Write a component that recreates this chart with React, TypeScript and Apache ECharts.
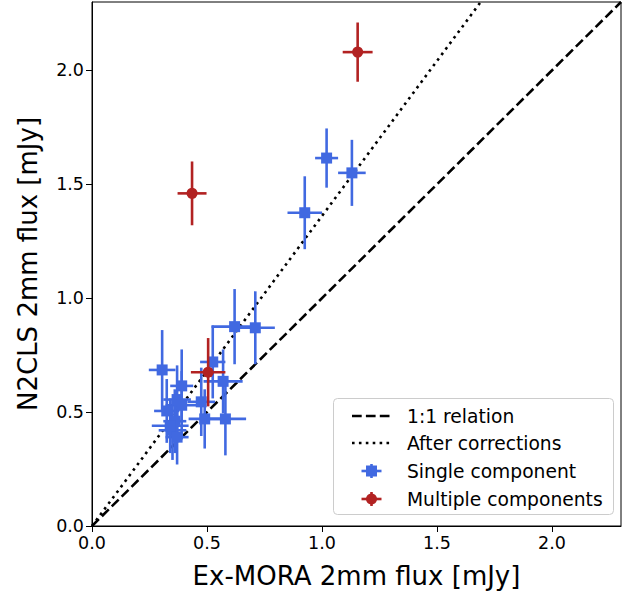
import React, { useEffect, useRef } from 'react';
import * as echarts from 'echarts';

// Single-component sources: x, y, x error, y error
const singleX = [1.13, 1.02, 0.925, 0.62, 0.71, 0.525, 0.57, 0.475, 0.49, 0.58, 0.305, 0.39, 0.37, 0.325, 0.39, 0.35, 0.37, 0.36, 0.34];
const singleY = [1.55, 1.615, 1.375, 0.875, 0.87, 0.72, 0.635, 0.545, 0.47, 0.47, 0.685, 0.615, 0.555, 0.505, 0.53, 0.42, 0.39, 0.46, 0.44];
const singleXErr = [0.06, 0.05, 0.075, 0.1, 0.085, 0.055, 0.085, 0.06, 0.07, 0.09, 0.058, 0.05, 0.06, 0.055, 0.07, 0.06, 0.05, 0.05, 0.08];
const singleYErr = [0.145, 0.13, 0.16, 0.165, 0.16, 0.16, 0.14, 0.15, 0.13, 0.16, 0.175, 0.16, 0.15, 0.14, 0.15, 0.13, 0.12, 0.14, 0.12];

// Multiple-component sources
const multiX = [1.155, 0.435, 0.505];
const multiY = [2.08, 1.46, 0.675];
const multiXErr = [0.065, 0.063, 0.075];
const multiYErr = [0.13, 0.14, 0.15];

// Reference lines
const oneToOneX = [0, 2.3];
const oneToOneY = [0, 2.3];
const corrX = [0, 1.69];
const corrY = [0, 2.3];

const xTicks = [0, 0.5, 1.0, 1.5, 2.0];
const yTicks = [0, 0.5, 1.0, 1.5, 2.0];

const BLUE = '#4169E1';
const RED = '#B22222';
const FONT = 'DejaVu Sans';
const LEGEND_FS = 18.7;

function errRender(color: string) {
  return (params: any, api: any) => {
    const x = api.value(0), y = api.value(1), xe = api.value(2), ye = api.value(3);
    const l = api.coord([x - xe, y]);
    const r = api.coord([x + xe, y]);
    const t = api.coord([x, y + ye]);
    const b = api.coord([x, y - ye]);
    const style = { stroke: color, lineWidth: 2.6, fill: null };
    return {
      type: 'group',
      children: [
        { type: 'line', shape: { x1: l[0], y1: l[1], x2: r[0], y2: r[1] }, style },
        { type: 'line', shape: { x1: t[0], y1: t[1], x2: b[0], y2: b[1] }, style },
      ],
    };
  };
}

function legendErrIcon(cx: number, cy: number, color: string, square: boolean) {
  const s = { stroke: color, lineWidth: 2.6 };
  return [
    { type: 'line', shape: { x1: cx - 10, y1: cy, x2: cx + 10, y2: cy }, style: s },
    { type: 'line', shape: { x1: cx, y1: cy - 7, x2: cx, y2: cy + 7 }, style: s },
    square
      ? { type: 'rect', shape: { x: cx - 5.5, y: cy - 5.5, width: 11, height: 11 }, style: { fill: color } }
      : { type: 'circle', shape: { cx, cy, r: 5.5 }, style: { fill: color } },
  ];
}

export default function App() {
  const ref = useRef<HTMLDivElement>(null);
  useEffect(() => {
    if (!ref.current) return;
    const chart = echarts.init(ref.current, null, { renderer: 'svg' });
    const axisCommon = {
      type: 'value',
      min: 0,
      max: 2.3,
      nameLocation: 'middle',
      nameTextStyle: { fontSize: 26, color: '#000', fontFamily: FONT },
      axisLine: { show: true, lineStyle: { color: '#000', width: 1 } },
      splitLine: { show: false },
    };
    const lineLabel = { fontSize: 17.5, color: '#000', fontFamily: FONT, margin: 8, formatter: (v: number) => v.toFixed(1) };
    chart.setOption({
      animation: false,
      grid: { left: 92, top: 2, width: 529, height: 524, show: true, borderColor: '#000', borderWidth: 1, containLabel: false },
      xAxis: {
        ...axisCommon,
        name: 'Ex-MORA 2mm flux [mJy]',
        nameGap: 37,
        axisTick: { show: true, length: 6, inside: false, customValues: xTicks, lineStyle: { color: '#000', width: 1 } },
        axisLabel: { ...lineLabel, customValues: xTicks },
      },
      yAxis: {
        ...axisCommon,
        name: 'N2CLS 2mm flux [mJy]',
        nameGap: 51,
        axisTick: { show: true, length: 6, inside: false, customValues: yTicks, lineStyle: { color: '#000', width: 1 } },
        axisLabel: { ...lineLabel, customValues: yTicks },
      },
      series: [
        {
          name: '1:1 relation',
          type: 'line',
          data: oneToOneX.map((x, i) => [x, oneToOneY[i]]),
          symbol: 'none',
          lineStyle: { color: '#000', width: 2.6, type: [9.7, 4.2] },
          z: 1,
        },
        {
          name: 'After corrections',
          type: 'line',
          data: corrX.map((x, i) => [x, corrY[i]]),
          symbol: 'none',
          lineStyle: { color: '#000', width: 2.6, type: [2.6, 4.3] },
          z: 1,
        },
        {
          name: 'Single component errors',
          type: 'custom',
          renderItem: errRender(BLUE),
          encode: { x: 0, y: 1 },
          data: singleX.map((x, i) => [x, singleY[i], singleXErr[i], singleYErr[i]]),
          z: 2,
        },
        {
          name: 'Single component',
          type: 'scatter',
          symbol: 'rect',
          symbolSize: 11,
          itemStyle: { color: BLUE, opacity: 1 },
          data: singleX.map((x, i) => [x, singleY[i]]),
          z: 3,
        },
        {
          name: 'Multiple components errors',
          type: 'custom',
          renderItem: errRender(RED),
          encode: { x: 0, y: 1 },
          data: multiX.map((x, i) => [x, multiY[i], multiXErr[i], multiYErr[i]]),
          z: 4,
        },
        {
          name: 'Multiple components',
          type: 'scatter',
          symbol: 'circle',
          symbolSize: 11,
          itemStyle: { color: RED, opacity: 1 },
          data: multiX.map((x, i) => [x, multiY[i]]),
          z: 5,
        },
      ],
      graphic: [
        {
          type: 'group',
          z: 100,
          children: [
            {
              type: 'rect',
              shape: { x: 333.5, y: 398.5, width: 280, height: 116, r: 4 },
              style: { fill: 'rgba(255,255,255,0.8)', stroke: '#cccccc', lineWidth: 1 },
            },
            { type: 'line', shape: { x1: 352, y1: 416, x2: 391, y2: 416 }, style: { stroke: '#000', lineWidth: 2.6, lineDash: [9.7, 4.2] } },
            { type: 'text', x: 407, y: 416, style: { text: '1:1 relation', fontSize: LEGEND_FS, fontFamily: FONT, fill: '#000', verticalAlign: 'middle' } },
            { type: 'line', shape: { x1: 352, y1: 443, x2: 391, y2: 443 }, style: { stroke: '#000', lineWidth: 2.6, lineDash: [2.6, 4.3] } },
            { type: 'text', x: 407, y: 443, style: { text: 'After corrections', fontSize: LEGEND_FS, fontFamily: FONT, fill: '#000', verticalAlign: 'middle' } },
            ...legendErrIcon(371.5, 471, BLUE, true),
            { type: 'text', x: 407, y: 471, style: { text: 'Single component', fontSize: LEGEND_FS, fontFamily: FONT, fill: '#000', verticalAlign: 'middle' } },
            ...legendErrIcon(371.5, 499, RED, false),
            { type: 'text', x: 407, y: 499, style: { text: 'Multiple components', fontSize: LEGEND_FS, fontFamily: FONT, fill: '#000', verticalAlign: 'middle' } },
          ],
        },
      ],
    });
    return () => chart.dispose();
  }, []);
  return <div ref={ref} style={{ position: 'fixed', left: 0, top: 0, width: 632, height: 594, background: '#fff' }} />;
}
